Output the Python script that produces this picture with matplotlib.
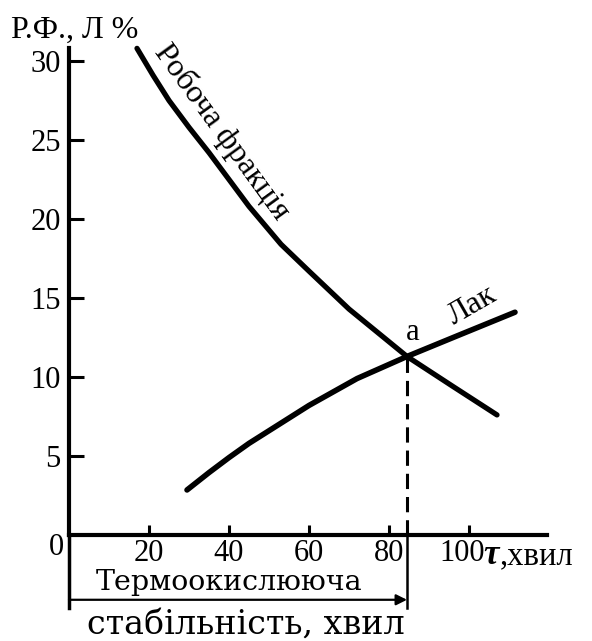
import matplotlib
matplotlib.use("Agg")
import matplotlib.pyplot as plt
from matplotlib.transforms import ScaledTranslation

# ---- data ----
robocha_x = [17, 21, 25, 30, 35, 40, 45, 53, 60, 70, 84.5, 96, 107]
robocha_y = [30.8, 29.1, 27.5, 25.8, 24.2, 22.5, 20.8, 18.4, 16.7, 14.3, 11.3, 9.4, 7.6]
lak_x = [29.5, 35, 40, 45, 50, 60, 72, 84.5, 97, 111.5]
lak_y = [2.85, 3.95, 4.9, 5.8, 6.6, 8.2, 9.9, 11.3, 12.6, 14.1]
point_a = (84.5, 11.3)
stability = 84.5
x_ticks = [20, 40, 60, 80, 100]
y_ticks = [5, 10, 15, 20, 25, 30]

plt.rcParams['font.family'] = ['Liberation Serif', 'DejaVu Serif']

W, H = 592, 641
fig = plt.figure(figsize=(W / 100, H / 100), dpi=100)
x0_px, y0_px = 69, 535
xpx, ypx = 4.0, 15.8
xmax, ymax = 125, 33
ax = fig.add_axes([x0_px / W, (H - y0_px) / H, xmax * xpx / W, ymax * ypx / H])
ax.set_xlim(0, xmax)
ax.set_ylim(0, ymax)
ax.patch.set_alpha(0)

for s in ['top', 'right']:
    ax.spines[s].set_visible(False)
ax.spines['left'].set_linewidth(3)
ax.spines['bottom'].set_linewidth(3)
ax.spines['left'].set_bounds(0, 30.8)
ax.spines['bottom'].set_bounds(0, 119.5)

ax.set_xticks(x_ticks)
ax.set_yticks(y_ticks)
ax.set_xticklabels([str(v) for v in x_ticks], fontsize=22)
ax.set_yticklabels([str(v) for v in y_ticks], fontsize=22)
ax.tick_params(axis='y', direction='in', length=11, width=2.2, pad=6)
ax.tick_params(axis='x', direction='in', length=7, width=2.2, pad=3)
# the "100" label sits slightly left of its tick in the reference
lbl100 = ax.get_xticklabels()[-1]
lbl100.set_transform(lbl100.get_transform() + ScaledTranslation(-7 / 100, 0, fig.dpi_scale_trans))

# curves
ax.plot(robocha_x, robocha_y, color='black', lw=3.8, solid_capstyle='round',
        solid_joinstyle='round')
ax.plot(lak_x, lak_y, color='black', lw=4.0, solid_capstyle='round',
        solid_joinstyle='round')

# dashed line from point a down to the axis, then bracket below
ax.plot([point_a[0], point_a[0]], [0, point_a[1]], color='black', lw=2.2,
        dashes=(5, 2.6))
ax.plot([stability, stability], [0, -4.6], color='black', lw=1.8, clip_on=False)
ax.plot([0, 0], [0, -4.6], color='black', lw=2.5, clip_on=False)
ax.annotate('', xy=(stability, -4.1), xytext=(0, -4.1),
            arrowprops=dict(arrowstyle='-|>', color='black', lw=1.6,
                            mutation_scale=16, shrinkA=0, shrinkB=0),
            annotation_clip=False)

# texts
ax.text(-1.2, -0.8, '0', fontsize=22, ha='right', va='center')
fig.text(11 / W, 1 - 30 / H, 'Р.Ф., Л %', fontsize=23, ha='left', va='center')
ax.text(38.3, 25.5, 'Робоча фракція', fontsize=23, rotation=-54,
        ha='center', va='center', rotation_mode='anchor')
ax.text(100.7, 14.5, 'Лак', fontsize=23, rotation=30,
        ha='center', va='center', rotation_mode='anchor')
ax.text(86, 12.8, 'а', fontsize=22, ha='center', va='center')
ax.text(105.6, -1.3, 'τ', fontsize=25, fontweight='bold', fontstyle='italic',
        ha='center', va='center')
ax.text(107.6, -1.3, ',хвил', fontsize=23.5, ha='left', va='center')
ax.text(39.9, -3.5, 'Термоокислююча', fontsize=20.5, family=['DejaVu Serif'],
        ha='center', va='baseline')
ax.text(44.3, -6.25, 'стабільність, хвил', fontsize=24, family=['DejaVu Serif'],
        ha='center', va='baseline')

fig.savefig('out.png', dpi=100)
